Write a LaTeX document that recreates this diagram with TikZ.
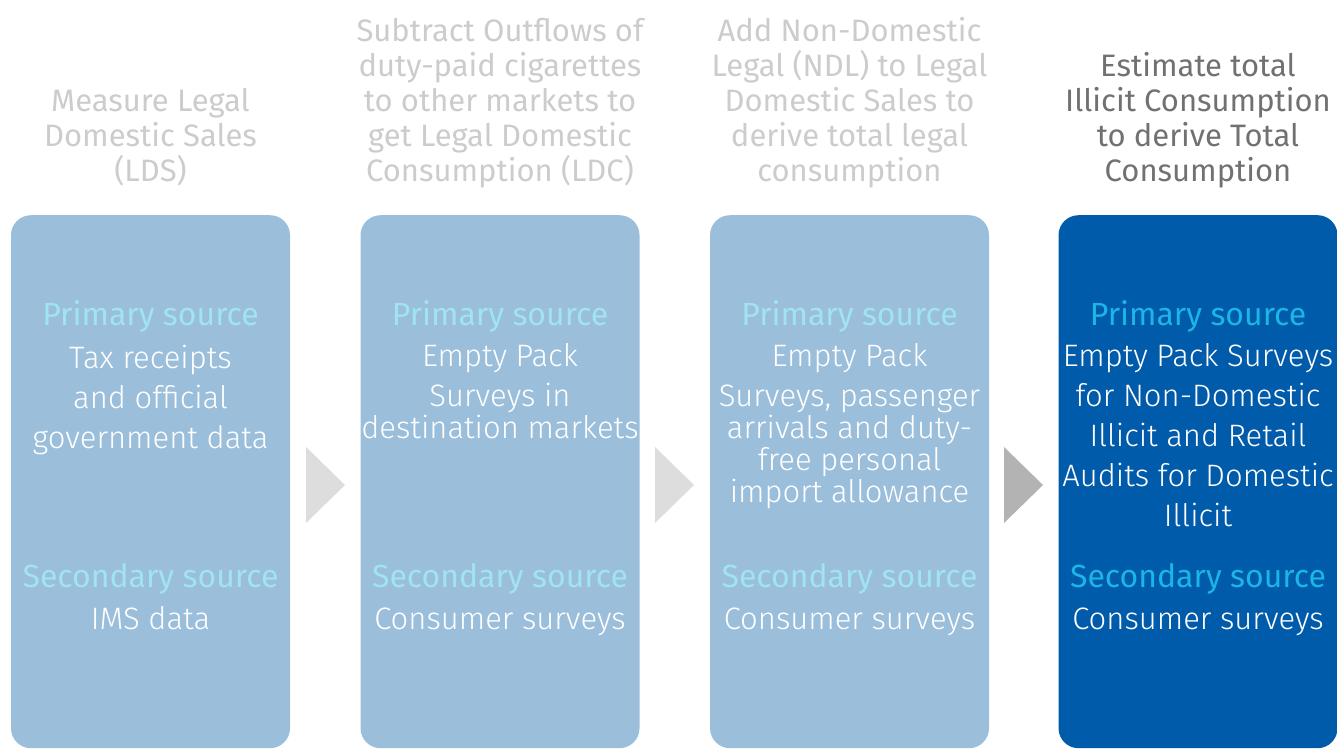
\documentclass[tikz,border=0pt]{standalone}
\usepackage{fontspec}
\setmainfont{Fira Sans}
\newfontfamily\lightfont{Fira Sans Light}

\definecolor{paleblue}{HTML}{9BBEDB}
\definecolor{deepblue}{HTML}{005BAA}
\definecolor{paleaqua}{HTML}{A0E4F1}
\definecolor{aqua}{HTML}{1BB5E6}
\definecolor{fadegray}{HTML}{CCCCCC}
\definecolor{headgray}{HTML}{717171}
\definecolor{tripale}{HTML}{DDDDDD}
\definecolor{tridark}{HTML}{B3B3B3}

\begin{document}
\begin{tikzpicture}[x=1pt, y=-1pt,
  stagebox/.style={fill=paleblue, rounded corners=20pt, minimum width=279pt, minimum height=533pt, anchor=north, inner sep=0pt},
  heading/.style={align=center, font=\fontsize{31}{35}\selectfont, text=fadegray, anchor=base, inner sep=0pt},
  srctitle/.style={font=\fontsize{32}{36}\selectfont, text=paleaqua, anchor=base, inner sep=0pt},
  srcbody/.style={align=center, font=\lightfont\fontsize{31}{40}\selectfont, text=white, anchor=base, inner sep=0pt}]
  \useasboundingbox (0,0) rectangle (1337,749);

  % the four stages, left to right
  \node[stagebox] (boxA) at (150.5,215) {};
  \node[stagebox] (boxB) at (500,215) {};
  \node[stagebox] (boxC) at (849.5,215) {};
  \node[stagebox, fill=deepblue] (boxD) at (1198,215) {};

  % headings sit on a common last baseline
  \node[heading] (headA) at (150.5,181) {Measure Legal\\Domestic Sales\\(LDS)};
  \node[heading] (headB) at (500,181) {Subtract Outflows of\\duty-paid cigarettes\\to other markets to\\get Legal Domestic\\Consumption (LDC)};
  \node[heading] (headC) at (849.5,181) {Add Non-Domestic\\Legal (NDL) to Legal\\Domestic Sales to\\derive total legal\\consumption};
  \node[heading, text=headgray] (headD) at (1198,181) {Estimate total\\Illicit Consumption\\to derive Total\\Consumption};

  % primary sources
  \node[srctitle] (primA) at (150.5,325) {Primary source};
  \node[srctitle] (primB) at (500,325) {Primary source};
  \node[srctitle] (primC) at (849.5,325) {Primary source};
  \node[srctitle, text=aqua] (primD) at (1198,325) {Primary source};

  \node[srcbody] (bodyA) at (150.5,448) {Tax receipts\\and official\\government data};
  \node[srcbody, font=\lightfont\fontsize{31}{32}\selectfont] (bodyB) at (500,438) {Empty Pack\\[8pt]Surveys in\\destination markets};
  \node[srcbody, font=\lightfont\fontsize{31}{32}\selectfont] (bodyC) at (849.5,502) {Empty Pack\\[8pt]Surveys, passenger\\arrivals and duty-\\free personal\\import allowance};
  \node[srcbody] (bodyD) at (1198,526) {Empty Pack Surveys\\for Non-Domestic\\Illicit and Retail\\Audits for Domestic\\Illicit};

  % secondary sources
  \node[srctitle] (secA) at (150.5,587) {Secondary source};
  \node[srctitle] (secB) at (500,587) {Secondary source};
  \node[srctitle] (secC) at (849.5,587) {Secondary source};
  \node[srctitle, text=aqua] (secD) at (1198,587) {Secondary source};

  \node[srcbody] (secbodyA) at (150.5,629) {IMS data};
  \node[srcbody] (secbodyB) at (500,629) {Consumer surveys};
  \node[srcbody] (secbodyC) at (849.5,629) {Consumer surveys};
  \node[srcbody] (secbodyD) at (1198,629) {Consumer surveys};

  % step triangles between the boxes
  \coordinate (tipA) at (306,447);
  \coordinate (tipB) at (655,447);
  \coordinate (tipC) at (1004,447);
  \fill[tripale] (tipA) -- ++(0,76) -- ++(39,-38) -- cycle;
  \fill[tripale] (tipB) -- ++(0,76) -- ++(39,-38) -- cycle;
  \fill[tridark] (tipC) -- ++(0,76) -- ++(39,-38) -- cycle;
\end{tikzpicture}
\end{document}
